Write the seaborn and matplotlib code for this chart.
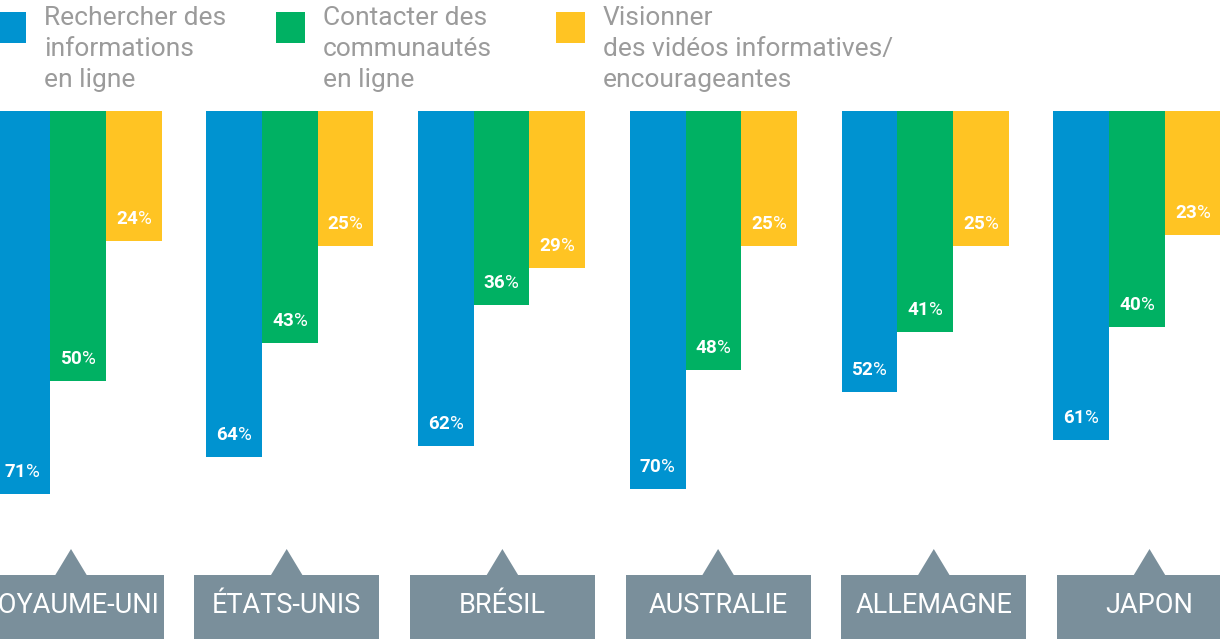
import matplotlib
matplotlib.use("Agg")
import matplotlib.pyplot as plt
import matplotlib.patches as mpatches
import seaborn as sns
import pandas as pd

# ---------------- data ----------------
pays = ["ROYAUME-UNI", "ÉTATS-UNIS", "BRÉSIL", "AUSTRALIE", "ALLEMAGNE", "JAPON"]
series = ["Rechercher des\ninformations\nen ligne",
          "Contacter des\ncommunautés\nen ligne",
          "Visionner\ndes vidéos informatives/\nencourageantes"]
rechercher = [71, 64, 62, 70, 52, 61]
contacter = [50, 43, 36, 48, 41, 40]
visionner = [24, 25, 29, 25, 25, 23]
colors = ["#0093D0", "#00B163", "#FFC423"]

df = pd.DataFrame({
    "pays": pays * 3,
    "serie": [series[0]] * 6 + [series[1]] * 6 + [series[2]] * 6,
    "valeur": rechercher + contacter + visionner,
})

# ---------------- style ----------------
sns.set_theme(style="white")
plt.rcParams["font.family"] = ["Roboto", "DejaVu Sans"]
plt.rcParams["mathtext.fontset"] = "custom"
plt.rcParams["mathtext.rm"] = "Roboto"
plt.rcParams["mathtext.bf"] = "Roboto:bold"

W, H = 1220, 639
fig = plt.figure(figsize=(W / 100, H / 100), dpi=100)
fig.patch.set_facecolor("white")

# overlay axes in pixel coordinates for decorations
ov = fig.add_axes([0, 0, 1, 1], zorder=0)
ov.set_xlim(0, W)
ov.set_ylim(H, 0)
ov.axis("off")

# bar axes
top_px, bot_px = 111, 549
ax = fig.add_axes([0, (H - bot_px) / H, 1, (bot_px - top_px) / H], zorder=1)
ax.patch.set_alpha(0)
sns.barplot(data=df, x="pays", y="valeur", hue="serie", palette=colors,
            width=0.79, gap=0, saturation=1, linewidth=0, legend=False, ax=ax)
px_per_unit = 5.4
group_px = 211.8
ax.set_ylim((bot_px - top_px) / px_per_unit, 0)
ax.set_xlim(-78 / group_px, (W - 78) / group_px)
ax.axis("off")

# value labels
for cont in ax.containers:
    for bar in cont:
        v = bar.get_height()
        xc = bar.get_x() + bar.get_width() / 2
        ax.annotate(r"$\mathbf{%d}$%%" % round(v), (xc, v),
                    xytext=(0, 17), textcoords="offset pixels",
                    ha="center", va="baseline", color="white", fontsize=13.5)

# legend
leg_x = [-3, 276, 556]
for i, (lab, c) in enumerate(zip(series, colors)):
    ov.add_patch(mpatches.Rectangle((leg_x[i], 12), 29, 31, color=c, lw=0))
    for k, line in enumerate(lab.split("\n")):
        ov.text(leg_x[i] + 47, 25 + 30.8 * k, line, fontsize=19,
                color="#9B9B9B", va="baseline", ha="left")

# country boxes
box_w, box_top = 185, 575
for i, p in enumerate(pays):
    cx = 71 + i * 215.7
    ov.add_patch(mpatches.Rectangle((cx - box_w / 2, box_top), box_w, H - box_top,
                                    color="#7A8F9B", lw=0))
    ov.add_patch(mpatches.Polygon([(cx - 16, box_top + 0.5), (cx + 16, box_top + 0.5),
                                   (cx, box_top - 26)], closed=True,
                                  color="#7A8F9B", lw=0))
    ov.text(cx, 613, p, fontsize=19.5, color="white", ha="center", va="baseline")

fig.savefig("out.png", dpi=100, facecolor="white")
